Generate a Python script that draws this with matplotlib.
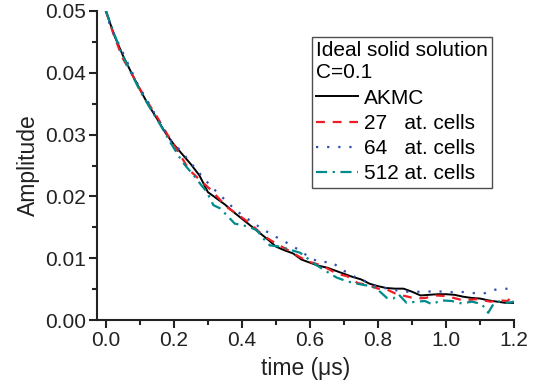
import numpy as np
import matplotlib
matplotlib.use("Agg")
import matplotlib.pyplot as plt

plt.rcParams['font.family'] = ['Liberation Sans', 'DejaVu Sans']

# AKMC reference curve
t_akmc = [0.0, 0.025, 0.05, 0.075, 0.10, 0.125, 0.15, 0.175, 0.20, 0.225, 0.25,
          0.275, 0.30, 0.325, 0.35, 0.375, 0.40, 0.425, 0.45, 0.475, 0.50, 0.525,
          0.55, 0.575, 0.60, 0.625, 0.65, 0.675, 0.70, 0.725, 0.75, 0.775, 0.80,
          0.825, 0.85, 0.875, 0.90, 0.925, 0.95, 0.975, 1.00, 1.025, 1.05, 1.075,
          1.10, 1.125, 1.15, 1.175, 1.20]
a_akmc = [0.0500, 0.0460, 0.0428, 0.0400, 0.0373, 0.0348, 0.0326, 0.0303, 0.0284,
          0.0268, 0.0252, 0.0234, 0.0207, 0.0197, 0.0187, 0.0175, 0.0164, 0.0153,
          0.0142, 0.0131, 0.0119, 0.0113, 0.0108, 0.0098, 0.0093, 0.0088, 0.0085,
          0.0080, 0.0075, 0.0070, 0.0066, 0.0059, 0.0055, 0.0052, 0.0051, 0.0051,
          0.0046, 0.0040, 0.0041, 0.0042, 0.0042, 0.0041, 0.0038, 0.0036, 0.0035,
          0.0032, 0.0030, 0.0028, 0.0028]

# 27 atom cells
t_27 = [0.0, 0.025, 0.05, 0.08, 0.115, 0.15, 0.18, 0.215, 0.245, 0.27, 0.31, 0.335,
        0.36, 0.385, 0.41, 0.435, 0.46, 0.485, 0.51, 0.54, 0.57, 0.60, 0.625, 0.65,
        0.68, 0.71, 0.74, 0.77, 0.80, 0.825, 0.855, 0.88, 0.91, 0.94, 0.97, 1.0,
        1.03, 1.05, 1.09, 1.13, 1.16, 1.18, 1.2]
a_27 = [0.0500, 0.0458, 0.0423, 0.0394, 0.0359, 0.0329, 0.0301, 0.0270, 0.0243,
        0.0230, 0.0210, 0.0195, 0.0181, 0.0172, 0.0162, 0.0151, 0.0138, 0.0129,
        0.0121, 0.0112, 0.0102, 0.0094, 0.0090, 0.0084, 0.0075, 0.0071, 0.0060,
        0.0057, 0.0051, 0.0050, 0.0042, 0.0039, 0.0035, 0.0036, 0.0040, 0.0039,
        0.0035, 0.0032, 0.0034, 0.0030, 0.0032, 0.0031, 0.0040]

# 64 atom cells
t_64 = [0.0, 0.012, 0.046, 0.076, 0.095, 0.134, 0.174, 0.193, 0.223, 0.247, 0.276,
        0.306, 0.34, 0.379, 0.405, 0.43, 0.458, 0.492, 0.526, 0.56, 0.59, 0.625,
        0.664, 0.696, 0.732, 0.767, 0.801, 0.835, 0.87, 0.905, 0.938, 0.973, 1.005,
        1.041, 1.075, 1.11, 1.149, 1.183, 1.2]
a_64 = [0.0500, 0.0477, 0.0437, 0.0402, 0.0380, 0.0343, 0.0305, 0.0289, 0.0272,
        0.0256, 0.0237, 0.0218, 0.0200, 0.0179, 0.0168, 0.0159, 0.0148, 0.0137,
        0.0127, 0.0116, 0.0105, 0.0094, 0.0094, 0.0081, 0.0070, 0.0062, 0.0053,
        0.0051, 0.0046, 0.0046, 0.0046, 0.0047, 0.0045, 0.0046, 0.0044, 0.0043,
        0.0050, 0.0051, 0.0048]

# 512 atom cells
t_512 = [0.0, 0.025, 0.05, 0.075, 0.10, 0.13, 0.16, 0.19, 0.218, 0.232, 0.257, 0.281,
         0.296, 0.316, 0.335, 0.355, 0.379, 0.399, 0.419, 0.443, 0.463, 0.482, 0.512,
         0.541, 0.571, 0.60, 0.619, 0.645, 0.678, 0.708, 0.73, 0.757, 0.781, 0.80,
         0.826, 0.845, 0.86, 0.884, 0.914, 0.938, 0.958, 0.987, 1.017, 1.046, 1.076,
         1.105, 1.124, 1.139, 1.159, 1.18, 1.2]
a_512 = [0.0500, 0.0462, 0.0427, 0.0399, 0.0371, 0.0343, 0.0316, 0.0287, 0.0262,
         0.0251, 0.0235, 0.0218, 0.0208, 0.0186, 0.0181, 0.0170, 0.0156, 0.0154,
         0.0151, 0.0146, 0.0132, 0.0121, 0.0119, 0.0114, 0.0109, 0.0097, 0.0089,
         0.0080, 0.0069, 0.0063, 0.0060, 0.0057, 0.0055, 0.0049, 0.0036, 0.0035,
         0.0042, 0.0028, 0.0030, 0.0031, 0.0026, 0.0032, 0.0031, 0.0027, 0.0030,
         0.0026, 0.0012, 0.0026, 0.0031, 0.0028, 0.0030]

fig = plt.figure(figsize=(5.44, 3.90), dpi=100)
ax = fig.add_axes([0.179, 0.179, 0.766, 0.793])

ax.plot(t_akmc, a_akmc, color='black', lw=1.4, label='AKMC')
ax.plot(t_27, a_27, color='#ee1c24', lw=1.6, ls=(0, (4, 3.5)), label='27   at. cells')
ax.plot(t_64, a_64, color='#2e4fb0', lw=1.6, ls=(0, (1, 4)), label='64   at. cells')
ax.plot(t_512, a_512, color='#008b8b', lw=1.6, ls=(0, (5, 2.5, 1, 2.5)),
        label='512 at. cells')

ax.set_xlim(-0.025, 1.2)
ax.set_ylim(0, 0.05)
ax.set_xticks(np.arange(0, 1.21, 0.2))
ax.set_xticks(np.arange(0.1, 1.2, 0.2), minor=True)
ax.set_yticks(np.arange(0, 0.051, 0.01))
ax.set_yticks(np.arange(0.005, 0.05, 0.01), minor=True)
ax.xaxis.set_major_formatter(matplotlib.ticker.FormatStrFormatter('%.1f'))
ax.yaxis.set_major_formatter(matplotlib.ticker.FormatStrFormatter('%.2f'))

for s in ['top', 'right']:
    ax.spines[s].set_visible(False)
for s in ['left', 'bottom']:
    ax.spines[s].set_linewidth(1.5)
    ax.spines[s].set_color('#222222')
ax.tick_params(which='major', direction='out', length=6, width=1.5,
               labelsize=15, colors='#222222', pad=2)
ax.tick_params(which='minor', direction='out', length=3.5, width=1.5,
               colors='#222222')

ax.set_xlabel('time (\u03bcs)', fontsize=16.5, color='#222222', labelpad=5)
ax.set_ylabel('Amplitude', fontsize=16.5, color='#222222', labelpad=4)

leg = ax.legend(title='Ideal solid solution\nC=0.1', loc='upper left',
                bbox_to_anchor=(0.515, 0.915), fontsize=15, title_fontsize=15,
                frameon=True, fancybox=False, borderpad=0.2, labelspacing=0.3,
                handlelength=2.0, handletextpad=0.3, borderaxespad=0,
                alignment='left')
leg.get_frame().set_edgecolor('#222222')
leg.get_frame().set_linewidth(1.0)

fig.savefig('out.png', dpi=100)
